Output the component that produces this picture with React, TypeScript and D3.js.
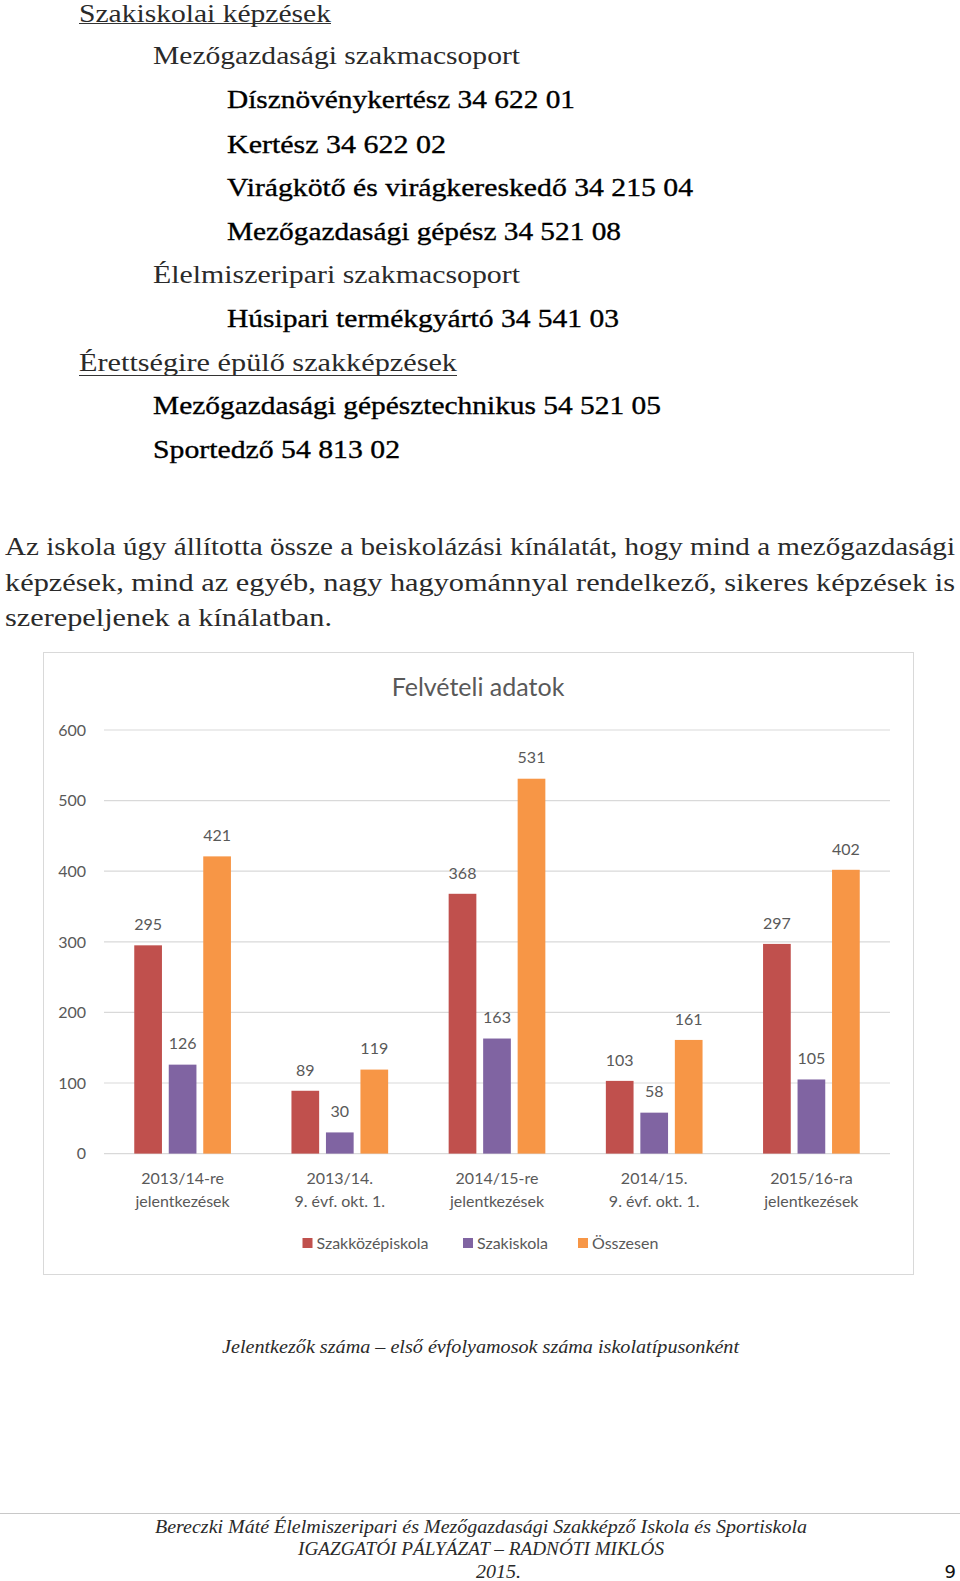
import * as d3 from "d3";

// chart data
const categories = [
  ["2013/14-re", "jelentkezések"],
  ["2013/14.", "9. évf. okt. 1."],
  ["2014/15-re", "jelentkezések"],
  ["2014/15.", "9. évf. okt. 1."],
  ["2015/16-ra", "jelentkezések"],
];
const seriesNames = ["Szakközépiskola", "Szakiskola", "Összesen"];
const szakkozepiskola = [295, 89, 368, 103, 297];
const szakiskola = [126, 30, 163, 58, 105];
const osszesen = [421, 119, 531, 161, 402];
const yTicks = [0, 100, 200, 300, 400, 500, 600];
const colors = ["#C0504D", "#8064A2", "#F79646"];

// page text around the chart
const docLines = [
  { t: "Szakiskolai képzések", x: 79, y: 21.5, w: 252, s: 25, u: 23.5 },
  { t: "Mezőgazdasági szakmacsoport", x: 153, y: 64.3, w: 367, s: 26 },
  { t: "Dísznövénykertész 34 622 01", x: 227, y: 108.3, w: 348, s: 26, b: true },
  { t: "Kertész 34 622 02", x: 227, y: 152.5, w: 219, s: 26, b: true },
  { t: "Virágkötő és virágkereskedő 34 215 04", x: 227, y: 196, w: 466, s: 26, b: true },
  { t: "Mezőgazdasági gépész 34 521 08", x: 227, y: 239.5, w: 394, s: 26, b: true },
  { t: "Élelmiszeripari szakmacsoport", x: 153, y: 283.3, w: 367, s: 26 },
  { t: "Húsipari termékgyártó 34 541 03", x: 227, y: 327.3, w: 392, s: 26, b: true },
  { t: "Érettségire épülő szakképzések", x: 79, y: 370.7, w: 378, s: 26, u: 375.5 },
  { t: "Mezőgazdasági gépésztechnikus 54 521 05", x: 153, y: 414.3, w: 508, s: 26, b: true },
  { t: "Sportedző 54 813 02", x: 153, y: 458.3, w: 247, s: 26, b: true },
  { t: "Az iskola úgy állította össze a beiskolázási kínálatát, hogy mind a mezőgazdasági", x: 5, y: 555, w: 950, s: 24.5 },
  { t: "képzések, mind az egyéb, nagy hagyománnyal rendelkező, sikeres képzések is", x: 5, y: 590.5, w: 950, s: 24.5 },
  { t: "szerepeljenek a kínálatban.", x: 5, y: 626, w: 327, s: 24.5 },
  { t: "Jelentkezők száma – első évfolyamosok száma iskolatípusonként", x: 222, y: 1352.5, w: 517, s: 18, i: true },
  { t: "Bereczki Máté Élelmiszeripari és Mezőgazdasági Szakképző Iskola és Sportiskola", x: 155, y: 1533, w: 652, s: 18, i: true },
  { t: "IGAZGATÓI PÁLYÁZAT – RADNÓTI MIKLÓS", x: 298, y: 1555, w: 366, s: 18, i: true },
  { t: "2015.", x: 476, y: 1578, w: 45, s: 18, i: true },
];

const chartFont = "Lato, 'Open Sans', sans-serif";
const docFont = "'Liberation Serif', 'Times New Roman', Times, serif";
const textGray = "#595959";

export default function App() {
  const plotLeft = 104;
  const plotRight = 890;

  const x0 = d3.scaleBand<number>().domain(d3.range(categories.length)).range([plotLeft, plotRight]);
  const x1 = d3
    .scaleBand<number>()
    .domain(d3.range(seriesNames.length))
    .range([0, x0.bandwidth()])
    .paddingInner(0.197)
    .paddingOuter(0.877);
  const y = d3.scaleLinear().domain([0, 600]).range([1153.6, 730]);

  const series = [szakkozepiskola, szakiskola, osszesen];

  // legend spots (text starts after the swatch)
  const legendX = [302.5, 463, 578];

  return (
    <svg
      width={960}
      height={1581}
      style={{ position: "absolute", left: 0, top: 0, background: "#fff" }}
    >
      <rect width={960} height={1581} fill="#fff" />

      {/* document text */}
      {docLines.map((d, i) => (
        <g key={i}>
          <text
            x={d.x}
            y={d.y}
            fontFamily={docFont}
            fontSize={d.s}
            fontStyle={d.i ? "italic" : "normal"}
            fill={d.b ? "#000" : "#2a2a2a"}
            stroke={d.b ? "#000" : "none"}
            strokeWidth={d.b ? 0.35 : 0}
            textLength={d.w}
            lengthAdjust="spacingAndGlyphs"
          >
            {d.t}
          </text>
          {d.u && <line x1={d.x} x2={d.x + d.w} y1={d.u} y2={d.u} stroke="#333" strokeWidth={1} />}
        </g>
      ))}

      {/* chart frame */}
      <rect x={43.5} y={652.5} width={870} height={622} fill="#fff" stroke="#d9d9d9" strokeWidth={1} />

      <text x={478} y={696} textAnchor="middle" fontFamily={chartFont} fontSize={25} fill={textGray}>
        Felvételi adatok
      </text>

      {/* gridlines and y labels */}
      {yTicks.map((t) => (
        <g key={t}>
          <line x1={plotLeft} x2={plotRight} y1={y(t)} y2={y(t)} stroke="#d9d9d9" strokeWidth={1.2} />
          <text
            x={86}
            y={y(t)}
            dy="0.36em"
            textAnchor="end"
            fontFamily={chartFont}
            fontSize={16}
            fill={textGray}
          >
            {t}
          </text>
        </g>
      ))}

      {/* bars */}
      {categories.map((c, ci) => (
        <g key={ci} transform={`translate(${x0(ci)},0)`}>
          {series.map((s, si) => (
            <g key={si}>
              <rect
                x={x1(si)}
                y={y(s[ci])}
                width={x1.bandwidth()}
                height={y(0) - y(s[ci])}
                fill={colors[si]}
              />
              <text
                x={(x1(si) as number) + x1.bandwidth() / 2}
                y={y(s[ci]) - 21}
                dy="0.36em"
                textAnchor="middle"
                fontFamily={chartFont}
                fontSize={16}
                fill={textGray}
              >
                {s[ci]}
              </text>
            </g>
          ))}
          <text
            x={x0.bandwidth() / 2}
            textAnchor="middle"
            fontFamily={chartFont}
            fontSize={16}
            fill={textGray}
          >
            <tspan x={x0.bandwidth() / 2} y={1178} dy="0.36em">
              {c[0]}
            </tspan>
            <tspan x={x0.bandwidth() / 2} y={1201} dy="0.36em">
              {c[1]}
            </tspan>
          </text>
        </g>
      ))}

      {/* legend */}
      {seriesNames.map((n, i) => (
        <g key={n} transform={`translate(${legendX[i]},1243)`}>
          <rect x={0} y={-5} width={10} height={10} fill={colors[i]} />
          <text x={14} dy="0.36em" fontFamily={chartFont} fontSize={16} fill={textGray}>
            {n}
          </text>
        </g>
      ))}

      {/* footer */}
      <line x1={0} x2={960} y1={1513.5} y2={1513.5} stroke="#c8c8c8" strokeWidth={1} />
      <text x={956} y={1578} textAnchor="end" fontFamily="'DejaVu Sans', sans-serif" fontSize={18} fill="#111">
        9
      </text>
    </svg>
  );
}
